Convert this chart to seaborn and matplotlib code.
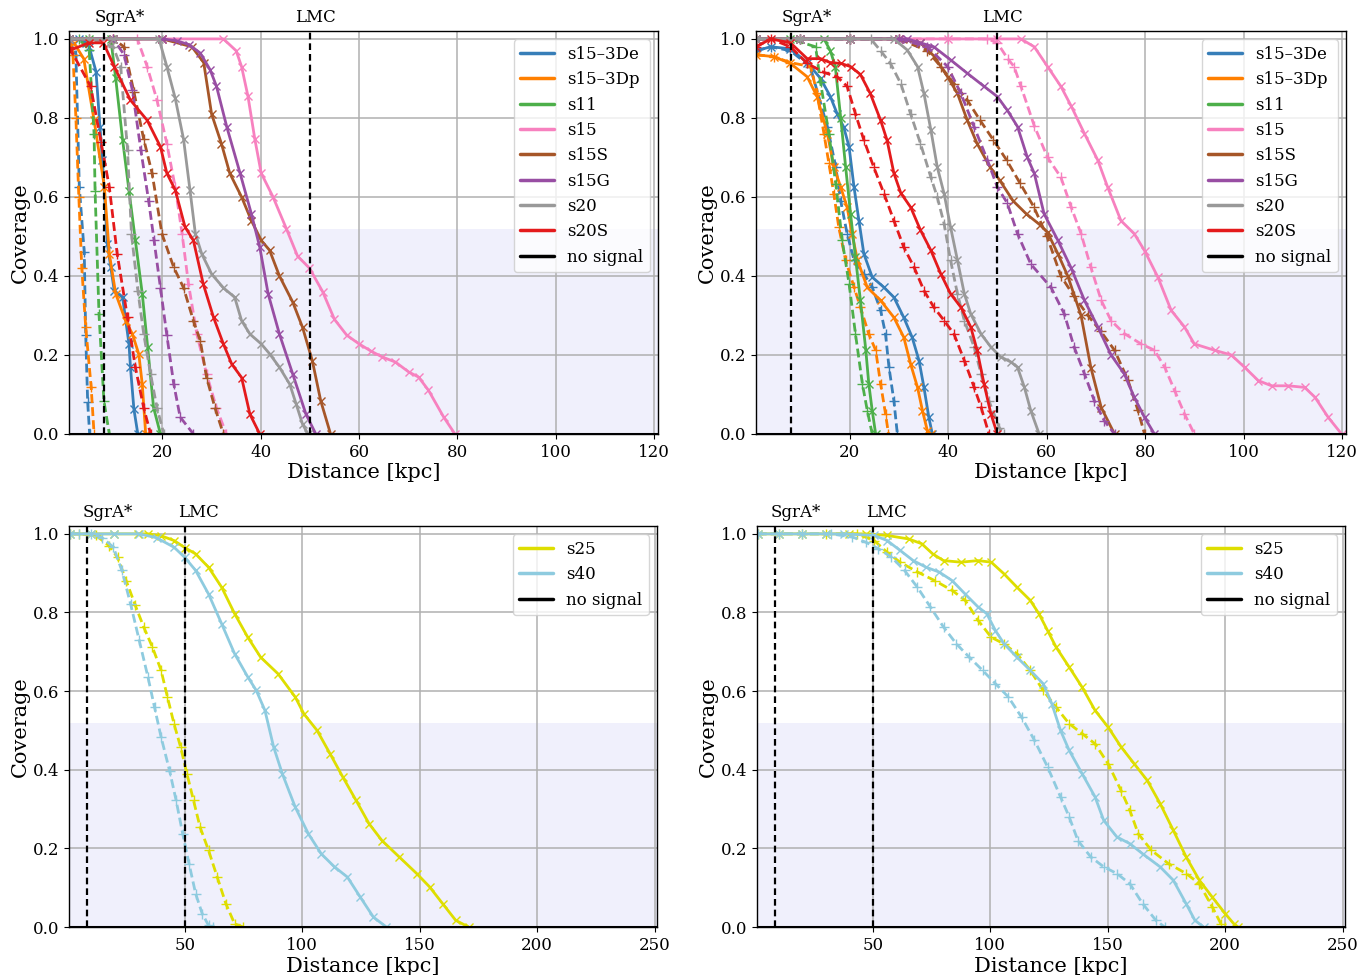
import matplotlib
matplotlib.use("Agg")
import matplotlib.pyplot as plt
import seaborn as sns
from matplotlib.lines import Line2D

sns.set_theme(style="ticks")
plt.rcParams.update({
    "font.family": ["DejaVu Serif"],
    "text.color": "black", "axes.labelcolor": "black",
    "xtick.color": "black", "ytick.color": "black",
    "axes.edgecolor": "black", "axes.linewidth": 1.0,
    "xtick.major.size": 3.5, "ytick.major.size": 3.5,
    "xtick.major.width": 0.8, "ytick.major.width": 0.8,
    "legend.frameon": True, "legend.framealpha": 0.8, "legend.edgecolor": "0.8",
    "legend.fancybox": True,
})

# ---------------- model names / colours ----------------
top_models = ["s15–3De", "s15–3Dp", "s11", "s15", "s15S", "s15G", "s20", "s20S"]
bottom_models = ["s25", "s40"]
nosignal_label = "no signal"
ref_names = ["SgrA*", "LMC"]
ref_dist = [8.2, 50.0]
top_xticks = [20, 40, 60, 80, 100, 120]
bottom_xticks = [50, 100, 150, 200, 250]
yticks = [0.0, 0.2, 0.4, 0.6, 0.8, 1.0]
nosig_d = [0.0, 260.0]
nosig_c = [0.0, 0.0]

# ================= TOP-LEFT panel =================
tl_3De_sol_d = [1, 3, 4.5, 5.1, 6.5, 7.3, 7.8, 8.8, 9.5, 10.2, 11.9, 13.2, 13.5, 14.2, 15.0]
tl_3De_sol_c = [1.0, 1.0, 0.99, 0.98, 0.917, 0.777, 0.693, 0.481, 0.422, 0.363, 0.346, 0.228, 0.169, 0.063, 0.0]
tl_3De_das_d = [1, 2.4, 3.1, 4.1, 4.4, 4.8, 5.2]
tl_3De_das_c = [1.0, 0.96, 0.625, 0.46, 0.25, 0.08, 0.0]
tl_3Dp_sol_d = [1, 2, 4, 6.1, 8.2, 9.2, 10.5, 12.5, 13.9, 15.2, 15.9, 16.6]
tl_3Dp_sol_c = [0.98, 0.99, 0.95, 0.794, 0.625, 0.456, 0.355, 0.287, 0.253, 0.202, 0.126, 0.0]
tl_3Dp_das_d = [1, 1.8, 2.4, 3.0, 3.6, 4.4, 5.5, 6.1]
tl_3Dp_das_c = [0.99, 0.96, 0.8, 0.6, 0.42, 0.27, 0.12, 0.0]
tl_s11_sol_d = [1, 5, 9.5, 10.5, 11.9, 13.2, 14.5, 15.9, 17.0, 18.2, 19.6]
tl_s11_sol_c = [1.0, 1.0, 1.0, 0.9, 0.745, 0.616, 0.49, 0.355, 0.22, 0.067, 0.0]
tl_s11_das_d = [1, 3, 5.1, 6.1, 6.3, 7.1, 8.1, 9.2]
tl_s11_das_c = [1.0, 1.0, 0.972, 0.76, 0.616, 0.304, 0.084, 0.0]
tl_s15_sol_d = [1, 10, 20, 32.4, 35, 36.1, 37.4, 38.8, 40.1, 42.5, 45.2, 47.5, 49.9, 52.6, 55, 57.5,
                60, 62.4, 64.7, 67.4, 70.1, 72.1, 74.1, 77.2, 79.5]
tl_s15_sol_c = [1.0, 1.0, 1.0, 1.0, 0.97, 0.93, 0.855, 0.746, 0.66, 0.6, 0.52, 0.45, 0.42, 0.36, 0.29, 0.25,
                0.228, 0.21, 0.195, 0.182, 0.157, 0.144, 0.111, 0.043, 0.0]
tl_s15_das_d = [1, 10, 14.9, 16.9, 18.9, 20.9, 22.6, 24, 25.3, 27, 29, 31, 33]
tl_s15_das_c = [1.0, 1.0, 1.0, 0.93, 0.845, 0.735, 0.625, 0.507, 0.38, 0.253, 0.151, 0.066, 0.0]
tl_s15S_sol_d = [1, 10, 20, 26, 28.4, 30, 32, 33.7, 36.1, 38.1, 40.1, 41.8, 43.8, 46.5, 48.5, 50.5, 52.2, 54.2]
tl_s15S_sol_c = [1.0, 1.0, 1.0, 0.98, 0.94, 0.81, 0.735, 0.66, 0.6, 0.54, 0.49, 0.465, 0.4, 0.334, 0.27, 0.185, 0.084, 0.0]
tl_s15S_das_d = [1, 5, 10, 12.2, 14.2, 16.2, 17.9, 19.9, 22.3, 24.3, 26.3, 27.7, 29, 30.7, 32.4]
tl_s15S_das_c = [1.0, 1.0, 1.0, 0.98, 0.866, 0.746, 0.66, 0.507, 0.422, 0.37, 0.287, 0.236, 0.142, 0.066, 0.0]
tl_s15G_sol_d = [1, 10, 20, 23, 25.5, 27.7, 29.7, 31, 33.1, 35.8, 38.1, 39.8, 41.5, 43.8, 46.5, 49.2, 51.2]
tl_s15G_sol_c = [1.0, 1.0, 1.0, 0.995, 0.985, 0.964, 0.922, 0.88, 0.777, 0.66, 0.557, 0.473, 0.355, 0.253, 0.152, 0.05, 0.0]
tl_s15G_das_d = [1, 10, 12.2, 13.9, 15.6, 17.2, 18.3, 19.6, 20.9, 22.3, 23.6, 26.3]
tl_s15G_das_c = [1.0, 1.0, 0.96, 0.87, 0.72, 0.59, 0.49, 0.37, 0.25, 0.127, 0.043, 0.0]
tl_s20_sol_d = [1, 10, 19.3, 20.9, 22.6, 24.3, 25.6, 26.7, 28, 30, 32.4, 34.7, 36.1, 37.8, 40.1, 41.8,
                43.8, 45.9, 47.2, 48.5, 49.6]
tl_s20_sol_c = [1.0, 1.0, 1.0, 0.93, 0.85, 0.746, 0.618, 0.507, 0.456, 0.405, 0.37, 0.346, 0.287, 0.253, 0.228, 0.203,
                0.169, 0.126, 0.076, 0.025, 0.0]
tl_s20_das_d = [1, 5, 10, 11.5, 12.9, 13.7, 15, 16.2, 17.6, 18.9, 20.3]
tl_s20_das_c = [1.0, 1.0, 0.98, 0.93, 0.72, 0.507, 0.363, 0.253, 0.151, 0.066, 0.0]
tl_s20S_sol_d = [1, 5, 8, 10.2, 13.5, 16.9, 19.6, 20.9, 22.6, 24.6, 26.3, 28.3, 30.4, 32.4, 34.1, 36.1, 37.8, 39.8]
tl_s20S_sol_c = [0.97, 0.99, 0.99, 0.93, 0.845, 0.794, 0.727, 0.66, 0.618, 0.524, 0.49, 0.38, 0.295, 0.228, 0.177,
                 0.143, 0.05, 0.0]
tl_s20S_das_d = [1, 5.4, 7.5, 9.2, 10.8, 12.9, 14.5, 16.2, 17.6]
tl_s20S_das_c = [0.98, 0.88, 0.74, 0.625, 0.456, 0.295, 0.169, 0.066, 0.0]

# ================= TOP-RIGHT panel =================
tr_3De_sol_d = [1, 4, 8, 11.4, 14.1, 16.1, 17.5, 18.8, 19.9, 20.9, 21.9, 22.9, 24.6, 27, 29, 31, 32.7, 34.1, 35.1, 36.1, 36.8]
tr_3De_sol_c = [0.97, 0.98, 0.975, 0.94, 0.9, 0.854, 0.81, 0.777, 0.727, 0.625, 0.54, 0.456, 0.397, 0.371, 0.346, 0.295,
                0.245, 0.186, 0.118, 0.042, 0.0]
tr_3De_das_d = [1, 4, 8, 12, 15.5, 17.2, 18.2, 19.5, 20.9, 22.9, 24.6, 26.3, 27.3, 28, 29, 29.7]
tr_3De_das_c = [0.97, 0.98, 0.97, 0.93, 0.777, 0.676, 0.59, 0.507, 0.44, 0.405, 0.372, 0.313, 0.253, 0.169, 0.084, 0.0]
tr_3Dp_sol_d = [1, 4.6, 8, 11.4, 13.4, 15.5, 16.8, 18.2, 19.5, 20.5, 21.6, 23.6, 26.3, 29, 31, 32.4, 33.8, 34.8, 35.8, 36.5]
tr_3Dp_sol_c = [0.96, 0.955, 0.938, 0.904, 0.854, 0.76, 0.676, 0.625, 0.574, 0.507, 0.44, 0.371, 0.338, 0.295, 0.245,
                0.177, 0.118, 0.059, 0.008, 0.0]
tr_3Dp_das_d = [1, 4.6, 8, 12.1, 13.4, 14.8, 15.8, 16.8, 17.8, 19.2, 20.9, 22.2, 23.9, 25.3, 26.3, 27.3, 27.9]
tr_3Dp_das_c = [0.96, 0.955, 0.94, 0.93, 0.862, 0.76, 0.685, 0.608, 0.524, 0.44, 0.372, 0.321, 0.253, 0.212, 0.127,
                0.051, 0.0]
tr_s11_sol_d = [1, 8, 14.8, 16.1, 17.1, 18.2, 19.2, 20.2, 21.2, 22.2, 23.3, 23.9, 24.6, 25.3]
tr_s11_sol_c = [1.0, 1.0, 1.0, 0.97, 0.93, 0.8, 0.676, 0.557, 0.447, 0.338, 0.212, 0.127, 0.059, 0.0]
tr_s11_das_d = [1, 8, 13.1, 14.1, 15.8, 17.2, 18.5, 19.9, 21.2, 22.6, 23.6, 24.6]
tr_s11_das_c = [1.0, 1.0, 0.98, 0.89, 0.76, 0.633, 0.49, 0.38, 0.253, 0.127, 0.059, 0.0]
tr_s15_sol_d = [1, 10, 20, 30, 40, 50, 54.8, 57.5, 60.2, 62.9, 65, 67.7, 70.4, 72.4, 75.1, 77.8, 79.9, 82.6, 85.3,
                88, 90, 94.1, 97.5, 100.2, 103, 105.7, 109.1, 112.4, 114.5, 117.2, 119.9]
tr_s15_sol_c = [1.0, 1.0, 1.0, 1.0, 1.0, 1.0, 1.0, 0.98, 0.93, 0.88, 0.83, 0.76, 0.693, 0.625, 0.54, 0.507, 0.464,
                0.397, 0.313, 0.271, 0.228, 0.212, 0.2, 0.169, 0.135, 0.122, 0.122, 0.118, 0.093, 0.042, 0.0]
tr_s15_das_d = [1, 10, 20, 30, 40, 48, 50, 52.1, 53.4, 54.8, 57.5, 60.2, 62.9, 65, 67, 69, 71.1, 73.1, 75.8, 79.2,
                81.9, 84, 86, 88, 90]
tr_s15_das_c = [1.0, 1.0, 1.0, 1.0, 1.0, 1.0, 0.99, 0.95, 0.93, 0.88, 0.78, 0.70, 0.65, 0.574, 0.507, 0.422, 0.338,
                0.287, 0.254, 0.228, 0.212, 0.169, 0.11, 0.051, 0.0]
tr_s15S_sol_d = [1, 10, 20, 30, 34.4, 37.1, 39.9, 41.9, 43.9, 45.9, 48.5, 50.5, 53.2, 55.9, 58.6, 60.2, 62.3, 64.3,
                 67, 69, 71.1, 73.8]
tr_s15S_sol_c = [1.0, 1.0, 1.0, 1.0, 0.99, 0.957, 0.904, 0.862, 0.794, 0.735, 0.676, 0.642, 0.59, 0.557, 0.53, 0.51,
                 0.456, 0.4, 0.3, 0.168, 0.067, 0.0]
tr_s15S_das_d = [1, 10, 20, 30, 35.8, 38.5, 41.2, 43.9, 46.5, 49.2, 51.9, 54.6, 57.4, 60.1, 62.9, 65.5, 68.4, 71,
                 73.8, 76.5, 78.5, 79.9]
tr_s15S_das_c = [1.0, 1.0, 1.0, 1.0, 0.97, 0.93, 0.887, 0.845, 0.794, 0.744, 0.693, 0.635, 0.575, 0.5, 0.4, 0.35,
                 0.3, 0.26, 0.212, 0.137, 0.062, 0.0]
tr_s15G_sol_d = [1, 10, 20, 30, 31.7, 34.4, 37.1, 40.5, 43.9, 47.3, 50, 52, 54.1, 56.1, 57.5, 59.5, 62.3, 65, 67.7,
                 70.4, 73.1, 75.8, 77.8, 79.9, 81.9]
tr_s15G_sol_c = [1.0, 1.0, 1.0, 1.0, 1.0, 0.99, 0.98, 0.947, 0.913, 0.88, 0.854, 0.82, 0.778, 0.7, 0.66, 0.557, 0.49,
                 0.42, 0.338, 0.271, 0.2, 0.152, 0.093, 0.042, 0.0]
tr_s15G_das_d = [1, 10, 20, 30, 35.8, 39.9, 42.6, 45.3, 48, 50, 52, 54.1, 56.8, 60.9, 63.6, 65.6, 67.7, 69.7, 71.7, 73.8]
tr_s15G_das_c = [1.0, 1.0, 1.0, 1.0, 0.98, 0.93, 0.862, 0.777, 0.693, 0.625, 0.585, 0.507, 0.43, 0.371, 0.304, 0.22,
                 0.152, 0.084, 0.034, 0.0]
tr_s20_sol_d = [1, 10, 20, 29, 31.7, 33.8, 35.1, 36.5, 37.8, 39.2, 40.5, 41.9, 43.3, 44.6, 46.7, 48.7, 50.7, 52.8,
                54.1, 55.5, 56.8, 58.5]
tr_s20_sol_c = [1.0, 1.0, 1.0, 1.0, 0.972, 0.93, 0.862, 0.77, 0.676, 0.608, 0.524, 0.44, 0.355, 0.304, 0.253, 0.22,
                0.195, 0.182, 0.169, 0.118, 0.059, 0.0]
tr_s20_das_d = [1, 10, 20, 24.3, 26.3, 28.3, 30.4, 32.4, 34.4, 36.5, 37.8, 39.2, 40.5, 41.9, 43.3, 45.3, 46.7, 48.3,
                50.4, 51.4]
tr_s20_das_c = [1.0, 1.0, 1.0, 1.0, 0.97, 0.938, 0.887, 0.81, 0.735, 0.65, 0.6, 0.532, 0.44, 0.355, 0.287, 0.22,
                0.152, 0.084, 0.016, 0.0]
tr_s20S_sol_d = [1, 4, 8, 11.4, 14.1, 16.1, 18.2, 20.2, 22.2, 24.2, 26.3, 27.6, 29, 30.4, 32.4, 34.4, 36.5, 38.5,
                 40.5, 42.6, 44.6, 45.9, 47.3, 48.7, 50]
tr_s20S_sol_c = [0.98, 1.0, 0.99, 0.95, 0.95, 0.94, 0.938, 0.93, 0.91, 0.862, 0.794, 0.744, 0.66, 0.61, 0.574, 0.516,
                 0.465, 0.406, 0.355, 0.321, 0.271, 0.212, 0.127, 0.051, 0.0]
tr_s20S_das_d = [1, 4, 8, 11.4, 14.8, 17.5, 19.5, 21.2, 22.9, 24.9, 27, 29, 31, 33.1, 35.1, 37.1, 39.2, 41.2, 43.3,
                 45.3, 46.7, 48.3]
tr_s20S_das_c = [0.98, 1.0, 0.98, 0.938, 0.915, 0.904, 0.88, 0.81, 0.744, 0.676, 0.608, 0.54, 0.473, 0.422, 0.363,
                 0.321, 0.287, 0.253, 0.186, 0.118, 0.068, 0.0]

# ================= BOTTOM-LEFT panel =================
bl_s25_sol_d = [1, 10, 20, 30, 34.3, 40, 45.4, 50, 54.6, 60.1, 65.7, 71.2, 76.8, 82.3, 89.7, 97, 100.7, 106.3,
                111.8, 117.3, 122.9, 128.4, 133.9, 141.3, 148.7, 154.2, 159.8, 165.3, 170.8]
bl_s25_sol_c = [1.0, 1.0, 1.0, 1.0, 1.0, 0.995, 0.983, 0.965, 0.949, 0.915, 0.864, 0.797, 0.737, 0.686, 0.644, 0.585,
                0.542, 0.5, 0.441, 0.381, 0.322, 0.263, 0.22, 0.178, 0.136, 0.102, 0.059, 0.017, 0.0]
bl_s25_das_d = [1, 5, 12.2, 17.7, 21.4, 25.1, 28.8, 32.5, 36.2, 39.9, 42.6, 45.4, 48.2, 50.9, 53.7, 56.5, 60.1,
                63.8, 67.5, 71.2, 74.9]
bl_s25_das_c = [1.0, 1.0, 0.996, 0.97, 0.94, 0.88, 0.82, 0.763, 0.712, 0.653, 0.585, 0.517, 0.458, 0.39, 0.322,
                0.254, 0.195, 0.127, 0.059, 0.008, 0.0]
bl_s40_sol_d = [1, 10, 20, 30.6, 38, 45.4, 50, 54.6, 60.1, 65.7, 71.2, 76.8, 80.4, 84.1, 87.8, 91.5, 97, 102.6,
                108.1, 113.7, 119.2, 124.7, 130.3, 135.8]
bl_s40_sol_c = [1.0, 1.0, 1.0, 1.0, 0.99, 0.966, 0.94, 0.907, 0.847, 0.771, 0.695, 0.636, 0.602, 0.551, 0.458, 0.39,
                0.305, 0.237, 0.186, 0.153, 0.127, 0.076, 0.025, 0.0]
bl_s40_das_d = [1, 5, 10, 14.9, 19.6, 23.2, 26.9, 30.6, 34.3, 37.1, 39.9, 43.5, 46.3, 49.1, 51.8, 54.6, 57.4, 60.1, 62]
bl_s40_das_c = [1.0, 1.0, 1.0, 0.99, 0.966, 0.907, 0.822, 0.729, 0.636, 0.559, 0.483, 0.398, 0.322, 0.237, 0.161,
                0.085, 0.034, 0.004, 0.0]

# ================= BOTTOM-RIGHT panel =================
br_s25_sol_d = [1, 10, 20, 30, 40, 46.9, 56.1, 65.3, 70.8, 75.5, 80.1, 87.5, 94.8, 100.4, 105.9, 111.4, 117, 120.7,
                124.4, 128, 133.6, 139.1, 144.6, 150.2, 155.7, 161.3, 166.8, 172.3, 177.9, 183.4, 189, 194.5, 200,
                203.7, 205.5]
br_s25_sol_c = [1.0, 1.0, 1.0, 1.0, 1.0, 1.0, 0.996, 0.987, 0.975, 0.949, 0.932, 0.928, 0.932, 0.928, 0.898, 0.864,
                0.831, 0.797, 0.754, 0.712, 0.661, 0.61, 0.551, 0.508, 0.458, 0.415, 0.373, 0.314, 0.246, 0.178,
                0.119, 0.076, 0.034, 0.008, 0.0]
br_s25_das_d = [1, 10, 20, 30, 43.2, 50.6, 56.1, 61.6, 69, 76.4, 83.8, 89.3, 94.8, 100.4, 105.9, 111.4, 117, 122.5,
                128, 133.6, 139.1, 144.6, 150.2, 155.7, 159.4, 163, 168.6, 175.9, 183.4, 189, 194.5, 198.2, 200]
br_s25_das_c = [1.0, 1.0, 1.0, 1.0, 1.0, 0.983, 0.953, 0.928, 0.903, 0.881, 0.856, 0.831, 0.78, 0.737, 0.72, 0.695,
                0.653, 0.602, 0.559, 0.517, 0.492, 0.466, 0.415, 0.347, 0.297, 0.237, 0.195, 0.161, 0.136, 0.11,
                0.051, 0.008, 0.0]
br_s40_sol_d = [1, 10, 20, 30, 37.6, 50.6, 56.1, 61.6, 67.2, 72.7, 78.2, 83.8, 89.3, 94.8, 98.5, 102.2, 105.9, 111.4,
                117, 122.5, 126.2, 129.9, 133.6, 139.1, 144.6, 148.3, 153.9, 159.4, 164.9, 172.3, 177.9, 183.4,
                187.1, 190.8]
br_s40_sol_c = [1.0, 1.0, 1.0, 1.0, 1.0, 0.996, 0.983, 0.958, 0.932, 0.915, 0.903, 0.881, 0.847, 0.814, 0.797, 0.754,
                0.72, 0.686, 0.653, 0.619, 0.568, 0.5, 0.449, 0.39, 0.331, 0.271, 0.229, 0.212, 0.186, 0.153, 0.119,
                0.059, 0.017, 0.0]
br_s40_das_d = [1, 10, 20, 32.1, 41.3, 46.9, 52.4, 57.9, 63.5, 69, 74.5, 80.1, 85.6, 91.1, 96.7, 102.2, 107.7, 113.3,
                118.8, 124.4, 129.9, 133.6, 137.3, 142.8, 148.3, 153.9, 159.4, 164.9, 170.5, 174.2]
br_s40_das_c = [1.0, 1.0, 1.0, 1.0, 0.992, 0.979, 0.962, 0.941, 0.907, 0.864, 0.814, 0.763, 0.72, 0.686, 0.653, 0.619,
                0.585, 0.534, 0.475, 0.407, 0.331, 0.28, 0.22, 0.178, 0.153, 0.136, 0.11, 0.059, 0.017, 0.0]

# ---------------- styling ----------------
top_colors = ["#377eb8", "#ff7f00", "#4daf4a", "#f781bf", "#a65628", "#984ea3", "#999999", "#e41a1c"]
bottom_colors = ["#dede00", "#8ecbdf"]
shade_color = "#f0f0fc"

fig = plt.figure(figsize=(13.69, 9.75), dpi=100)
ax_tl = fig.add_axes([69 / 1369, 1 - 434 / 975, 589 / 1369, 403 / 975])
ax_tr = fig.add_axes([756 / 1369, 1 - 434 / 975, 590 / 1369, 403 / 975])
ax_bl = fig.add_axes([69 / 1369, 1 - 927 / 975, 588 / 1369, 401 / 975])
ax_br = fig.add_axes([757 / 1369, 1 - 927 / 975, 588 / 1369, 401 / 975])

tl_curves = [(tl_3De_sol_d, tl_3De_sol_c, tl_3De_das_d, tl_3De_das_c),
             (tl_3Dp_sol_d, tl_3Dp_sol_c, tl_3Dp_das_d, tl_3Dp_das_c),
             (tl_s11_sol_d, tl_s11_sol_c, tl_s11_das_d, tl_s11_das_c),
             (tl_s15_sol_d, tl_s15_sol_c, tl_s15_das_d, tl_s15_das_c),
             (tl_s15S_sol_d, tl_s15S_sol_c, tl_s15S_das_d, tl_s15S_das_c),
             (tl_s15G_sol_d, tl_s15G_sol_c, tl_s15G_das_d, tl_s15G_das_c),
             (tl_s20_sol_d, tl_s20_sol_c, tl_s20_das_d, tl_s20_das_c),
             (tl_s20S_sol_d, tl_s20S_sol_c, tl_s20S_das_d, tl_s20S_das_c)]
tr_curves = [(tr_3De_sol_d, tr_3De_sol_c, tr_3De_das_d, tr_3De_das_c),
             (tr_3Dp_sol_d, tr_3Dp_sol_c, tr_3Dp_das_d, tr_3Dp_das_c),
             (tr_s11_sol_d, tr_s11_sol_c, tr_s11_das_d, tr_s11_das_c),
             (tr_s15_sol_d, tr_s15_sol_c, tr_s15_das_d, tr_s15_das_c),
             (tr_s15S_sol_d, tr_s15S_sol_c, tr_s15S_das_d, tr_s15S_das_c),
             (tr_s15G_sol_d, tr_s15G_sol_c, tr_s15G_das_d, tr_s15G_das_c),
             (tr_s20_sol_d, tr_s20_sol_c, tr_s20_das_d, tr_s20_das_c),
             (tr_s20S_sol_d, tr_s20S_sol_c, tr_s20S_das_d, tr_s20S_das_c)]
bl_curves = [(bl_s25_sol_d, bl_s25_sol_c, bl_s25_das_d, bl_s25_das_c),
             (bl_s40_sol_d, bl_s40_sol_c, bl_s40_das_d, bl_s40_das_c)]
br_curves = [(br_s25_sol_d, br_s25_sol_c, br_s25_das_d, br_s25_das_c),
             (br_s40_sol_d, br_s40_sol_c, br_s40_das_d, br_s40_das_c)]

panels = [
    (ax_tl, tl_curves, top_models, top_colors, (1.0, 120.8), top_xticks, [11.4, 51.1]),
    (ax_tr, tr_curves, top_models, top_colors, (1.0, 120.8), top_xticks, [11.4, 51.1]),
    (ax_bl, bl_curves, bottom_models, bottom_colors, (0.7, 251), bottom_xticks, [17.0, 56.0]),
    (ax_br, br_curves, bottom_models, bottom_colors, (0.7, 251), bottom_xticks, [17.0, 56.0]),
]

for ax, curves, names, colors, xlim, xt, label_x in panels:
    ax.set_facecolor("white")
    ax.axhspan(0, 0.52, color=shade_color, zorder=0, lw=0)
    ax.grid(True, color="#b0b0b0", lw=1.1, zorder=1)
    ax.set_axisbelow(True)
    for (sd, sc, dd, dc), col in zip(curves, colors):
        sns.lineplot(x=dd, y=dc, ax=ax, color=col, lw=2.0, linestyle=(0, (3.2, 1.5)), marker="+",
                     markersize=7, markeredgewidth=1.0, markeredgecolor=col,
                     sort=False, estimator=None, legend=False, zorder=3)
        sns.lineplot(x=sd, y=sc, ax=ax, color=col, lw=2.0, linestyle="-", marker="x",
                     markersize=6, markeredgewidth=1.0, markeredgecolor=col,
                     sort=False, estimator=None, legend=False, zorder=3)
    sns.lineplot(x=nosig_d, y=nosig_c, ax=ax, color="black", lw=2.2, sort=False,
                 estimator=None, legend=False, zorder=4)
    for rd, rn, lx in zip(ref_dist, ref_names, label_x):
        ax.axvline(rd, color="black", ls=(0, (3.0, 1.8)), lw=1.6, zorder=5)
        ax.text(lx, 1.012, rn, transform=ax.get_xaxis_transform(), ha="center", va="bottom",
                fontsize=12)
    ax.set_xlim(*xlim)
    ax.set_ylim(0, 1.02)
    ax.set_xticks(xt)
    ax.set_yticks(yticks)
    ax.tick_params(labelsize=12)
    ax.set_xlabel("Distance [kpc]", fontsize=15, labelpad=2)
    ax.set_ylabel("Coverage", fontsize=15, labelpad=2)
    for s in ax.spines.values():
        s.set_visible(True)
        s.set_color("black")
        s.set_zorder(6)
    handles = [Line2D([], [], color=c, lw=2.5) for c in colors]
    handles.append(Line2D([], [], color="black", lw=2.5))
    ax.legend(handles=handles, labels=list(names) + [nosignal_label], loc="upper right",
              fontsize=12, handlelength=2.0)

fig.savefig("out.png", dpi=100)
